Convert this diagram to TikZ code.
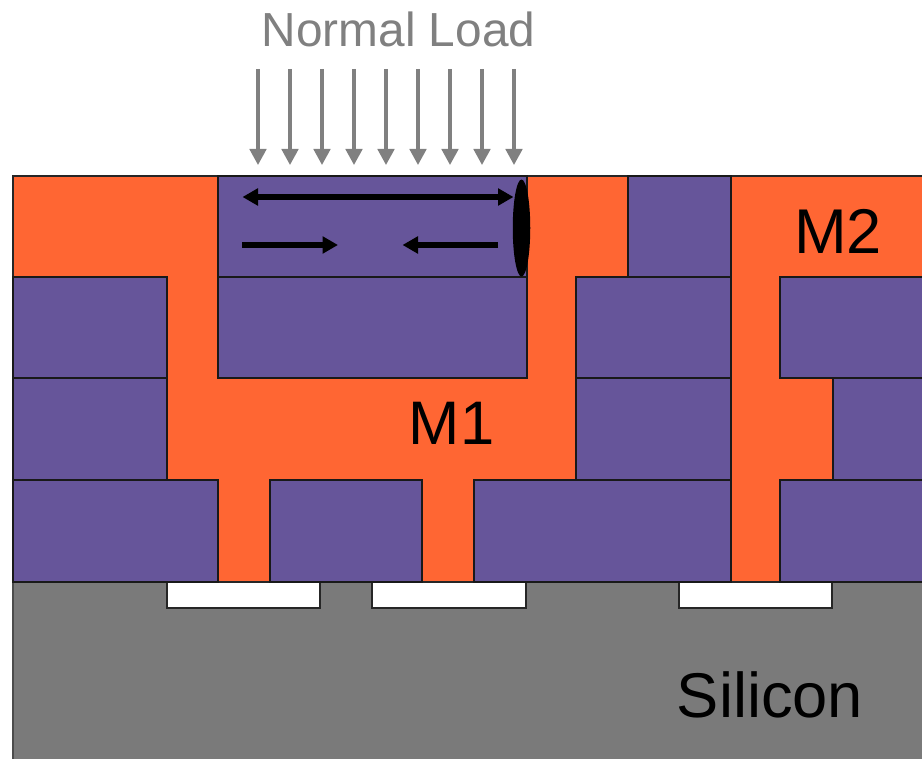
\documentclass[tikz,border=0pt]{standalone}
\usepackage{fontspec}
\setmainfont{Liberation Sans}
\usetikzlibrary{arrows.meta,shapes.geometric}
\definecolor{metal}{HTML}{FF6633}
\definecolor{oxide}{HTML}{66559A}
\definecolor{silicon}{HTML}{7A7A7A}
\definecolor{loadgray}{HTML}{808080}

\begin{document}
\begin{tikzpicture}[x=0.02cm, y=-0.02cm]
\tikzset{
    metalbox/.style={draw=black!85, fill=metal, line width=0.8pt},
    oxidebox/.style={draw=black!90, fill=oxide, line width=0.85pt},
    siliconbox/.style={draw=black!70, fill=silicon, line width=0.9pt},
    padbox/.style={draw=black!85, fill=white, line width=1pt},
    loadarrow/.style={-{Triangle[length=0.32cm, width=0.33cm]}, draw=loadgray, fill=loadgray, line width=1.9pt},
    forcearrow/.style={-{Triangle[length=0.31cm, width=0.33cm]}, line width=3pt},
    bothforce/.style={{Triangle[length=0.31cm, width=0.33cm]}-{Triangle[length=0.31cm, width=0.33cm]}, line width=3pt},
    bigtext/.style={font=\fontsize{36}{36}\selectfont, text=black, inner sep=0pt},
    loadtext/.style={font=\fontsize{27.2}{27.2}\selectfont, text=loadgray, inner sep=0pt}
}
\clip (0,0) rectangle (922,759);
\fill[white] (0,0) rectangle (922,759);

\draw[siliconbox] (13,582) rectangle (940,780);
\foreach \xa/\xb in {167/320, 372/526, 679/832}
    \draw[padbox] (\xa,582) rectangle (\xb,608);

\draw[metalbox] (13,176) rectangle (940,582);

% oxide blocks, one row at a time
\foreach \xa/\xb in {218/527, 628/731}
    \draw[oxidebox] (\xa,176) rectangle (\xb,277);
\foreach \xa/\xb in {13/167, 218/527, 576/731, 780/940}
    \draw[oxidebox] (\xa,277) rectangle (\xb,378);
\foreach \xa/\xb in {13/167, 576/731, 833/940}
    \draw[oxidebox] (\xa,378) rectangle (\xb,480);
\foreach \xa/\xb in {13/218, 270/422, 474/731, 780/940}
    \draw[oxidebox] (\xa,480) rectangle (\xb,582);

\node[loadtext] (load) at (398.5,29) {Normal Load};
\node[bigtext, font=\fontsize{35}{35}\selectfont] (mone) at (451.5,423) {M1};
\node[bigtext] (mtwo) at (838,231) {M2};
\node[bigtext] (silicon) at (770,695) {Silicon};

\foreach \i/\x in {1/258, 2/290, 3/322, 4/354, 5/386, 6/418, 7/450, 8/482, 9/514} {
    \coordinate (top\i) at (\x,69);
    \coordinate (tip\i) at (\x,165);
    \draw[loadarrow] (top\i) -- (tip\i);
}

\node[ellipse, fill=black, minimum width=0.35cm, minimum height=1.94cm, inner sep=0pt] (crack) at (521.5,228) {};

\coordinate (longleft) at (242.5,197);
\coordinate (longright) at (513.5,197);
\coordinate (pushstart) at (242,245);
\coordinate (pushend) at (338,245);
\coordinate (pullstart) at (498,245);
\coordinate (pullend) at (402.5,245);
\draw[bothforce] (longleft) -- (longright);
\draw[forcearrow] (pushstart) -- (pushend);
\draw[forcearrow] (pullstart) -- (pullend);

\end{tikzpicture}
\end{document}
